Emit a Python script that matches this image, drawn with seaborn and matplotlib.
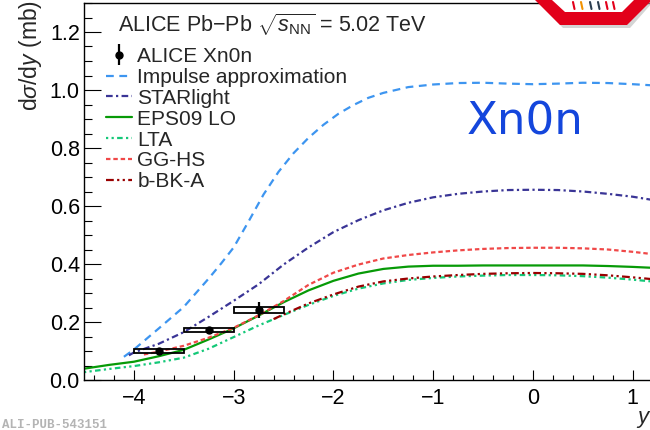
import numpy as np
import pandas as pd
import matplotlib
matplotlib.use("Agg")
import matplotlib.pyplot as plt
from matplotlib.patches import Rectangle, Polygon
from matplotlib.ticker import MultipleLocator
import seaborn as sns

# ALICE Xn0n measurement
data_x = [-3.75, -3.25, -2.75]
data_y = [0.100, 0.172, 0.241]
data_stat = [0.004, 0.012, 0.027]
data_syst = [0.006, 0.008, 0.011]
bin_half = [0.25, 0.25, 0.25]

# model curves, values
y_impulse = [-4.1, -4.0, -3.75, -3.5, -3.25, -3.125, -3.0, -2.85, -2.7, -2.55, -2.4, -2.25, -2.1, -1.95, -1.8,
             -1.65, -1.5, -1.25, -1.0, -0.75, -0.5, -0.25, 0.0, 0.25, 0.5, 0.75, 1.0, 1.25]
v_impulse = [0.080, 0.105, 0.178, 0.252, 0.350, 0.402, 0.457, 0.547, 0.640, 0.718, 0.782, 0.835, 0.880, 0.918, 0.948,
             0.973, 0.990, 1.010, 1.019, 1.024, 1.025, 1.022, 1.020, 1.022, 1.025, 1.024, 1.020, 1.015]

y_starlight = [-4.05, -4.0, -3.75, -3.5, -3.25, -3.0, -2.75, -2.5, -2.25, -2.0, -1.75, -1.5, -1.25,
               -1.0, -0.75, -0.5, -0.25, 0.0, 0.25, 0.5, 0.75, 1.0, 1.25]
v_starlight = [0.085, 0.095, 0.125, 0.165, 0.218, 0.273, 0.330, 0.398, 0.457, 0.510, 0.551, 0.585, 0.611,
               0.630, 0.642, 0.650, 0.655, 0.656, 0.655, 0.650, 0.642, 0.632, 0.618]

y_eps09 = [-4.5, -4.25, -4.0, -3.75, -3.5, -3.25, -3.0, -2.75, -2.5, -2.25, -2.0, -1.75, -1.5, -1.25,
           -1.0, -0.75, -0.5, -0.25, 0.0, 0.25, 0.5, 0.75, 1.0, 1.25]
v_eps09 = [0.039, 0.052, 0.063, 0.082, 0.104, 0.140, 0.178, 0.222, 0.268, 0.309, 0.342, 0.367, 0.383, 0.391,
           0.394, 0.394, 0.395, 0.395, 0.395, 0.395, 0.395, 0.393, 0.390, 0.386]

y_lta = [-4.5, -4.25, -4.0, -3.75, -3.5, -3.25, -3.0, -2.75, -2.5, -2.25, -2.0, -1.75, -1.5, -1.25,
         -1.0, -0.75, -0.5, -0.25, 0.0, 0.25, 0.5, 0.75, 1.0, 1.25]
v_lta = [0.027, 0.038, 0.048, 0.061, 0.077, 0.108, 0.148, 0.188, 0.224, 0.259, 0.290, 0.315, 0.333, 0.345,
         0.352, 0.357, 0.360, 0.362, 0.362, 0.361, 0.358, 0.353, 0.346, 0.338]

y_gghs = [-3.9, -3.75, -3.5, -3.25, -3.0, -2.75, -2.5, -2.25, -2.0, -1.75, -1.5, -1.25,
          -1.0, -0.75, -0.5, -0.25, 0.0, 0.25, 0.5, 0.75, 1.0, 1.25]
v_gghs = [0.088, 0.098, 0.118, 0.146, 0.180, 0.223, 0.272, 0.328, 0.370, 0.398, 0.419, 0.431,
          0.440, 0.447, 0.452, 0.455, 0.456, 0.456, 0.454, 0.450, 0.442, 0.432]

y_bbka = [-2.6, -2.5, -2.25, -2.0, -1.75, -1.5, -1.25,
          -1.0, -0.75, -0.5, -0.25, 0.0, 0.25, 0.5, 0.75, 1.0, 1.25]
v_bbka = [0.210, 0.226, 0.264, 0.295, 0.322, 0.340, 0.350,
          0.357, 0.362, 0.366, 0.368, 0.369, 0.368, 0.366, 0.361, 0.354, 0.346]

models = [
    ("Impulse approximation", y_impulse, v_impulse, "#3d95f0", (0, (3.5, 2.5))),
    ("STARlight", y_starlight, v_starlight, "#3a3596", (0, (3, 1.5, 1, 1.5))),
    ("EPS09 LO", y_eps09, v_eps09, "#079a07", "-"),
    ("LTA", y_lta, v_lta, "#14c878", (0, (1, 1.5, 1, 1.5, 2.5, 1.5))),
    ("GG-HS", y_gghs, v_gghs, "#f04848", (0, (2, 1.3))),
    ("b-BK-A", y_bbka, v_bbka, "#990000", (0, (3.5, 1.5, 1, 1.5, 1, 1.5))),
]

sns.set_theme(style="ticks")
plt.rcParams["font.family"] = ["Liberation Sans", "DejaVu Sans"]
plt.rcParams["mathtext.fontset"] = "custom"
plt.rcParams["mathtext.rm"] = "Liberation Sans"
plt.rcParams["mathtext.it"] = "Liberation Sans:italic"

W, H = 650, 430
fig = plt.figure(figsize=(6.5, 4.3), dpi=100)
ax = fig.add_axes([84 / W, (H - 380) / H, (W - 84) / W, 377 / H])

handles = []
for name, xs, vs, col, ls in models:
    df = pd.DataFrame({"y": xs, "v": vs})
    sns.lineplot(data=df, x="y", y="v", ax=ax, color=col, linestyle=ls, lw=1.6, label=name)
    handles.append(ax.lines[-1])

# systematic boxes
for x, v, s, hw in zip(data_x, data_y, data_syst, bin_half):
    ax.add_patch(Rectangle((x - hw, v - s), 2 * hw, 2 * s, fill=False, ec="black", lw=1.3, zorder=5))
eb = ax.errorbar(data_x, data_y, yerr=data_stat, fmt="o", color="black", ms=5,
                 elinewidth=1.6, capsize=0, zorder=6)

if ax.get_legend() is not None:
    ax.get_legend().remove()

ax.set_xlim(-4.5, 1.173)
ax.set_ylim(0, 1.3)
ax.set_xlabel("")
ax.set_ylabel("")
ax.xaxis.set_major_locator(MultipleLocator(1))
ax.xaxis.set_minor_locator(MultipleLocator(0.2))
ax.yaxis.set_major_locator(MultipleLocator(0.2))
ax.yaxis.set_minor_locator(MultipleLocator(0.05))
ax.set_yticklabels([f"{t:.1f}" for t in ax.get_yticks()])
ax.set_xticklabels([f"{int(t)}".replace("-", "\u2212") for t in ax.get_xticks()])
ax.tick_params(axis="both", which="both", direction="in", colors="black", labelsize=15.5, width=0.8)
ax.tick_params(axis="y", which="major", length=12, pad=3)
ax.tick_params(axis="y", which="minor", length=6)
ax.tick_params(axis="x", which="major", length=7, pad=6)
ax.tick_params(axis="x", which="minor", length=3.6)
for side in ["left", "bottom", "top"]:
    ax.spines[side].set_color("black")
    ax.spines[side].set_linewidth(1.0)
ax.spines["right"].set_visible(False)

leg = ax.legend([eb] + handles, ["ALICE Xn0n"] + [m[0] for m in models],
                loc="upper left", bbox_to_anchor=(106 / W, 1 - 47 / H), bbox_transform=fig.transFigure,
                frameon=False, fontsize=15, handlelength=1.25, handletextpad=0.25,
                labelspacing=0.09, borderpad=0, borderaxespad=0)

fig.text(118 / W, 1 - 25 / H, r"ALICE Pb$-$Pb $\sqrt{s_{\mathrm{NN}}}$ = 5.02 TeV",
         fontsize=15.5, va="center", ha="left")
fig.text(30 / W, 1.0, r"d$\sigma$/d$y$ (mb)", rotation=90, fontsize=16.5, ha="center", va="top")
fig.text(637 / W, 1 - 418 / H, "y", fontsize=16, style="italic", ha="left", va="center")
ax.text(-0.08, 0.89, "Xn0n", transform=ax.transData, fontsize=32.5, color="#1446dc",
        family="DejaVu Sans", ha="center", va="center")
fig.text(2 / W, 1 - 425 / H, "ALI-PUB-543151", fontsize=9, family="Liberation Mono",
         weight="bold", color="#b4b4b4", ha="left", va="center")

# ALICE logo corner
fx = lambda p: p / W
fy = lambda p: 1 - p / H
fig.patches.append(Polygon([(fx(538), fy(2)), (fx(563), fy(28)), (fx(630), fy(28)), (fx(653), fy(2))],
                           closed=True, transform=fig.transFigure, fc="#b8b8b8", ec="none", alpha=0.6))
fig.patches.append(Polygon([(fx(535), fy(0)), (fx(560), fy(25)), (fx(627), fy(25)), (fx(652), fy(0))],
                           closed=True, transform=fig.transFigure, fc="#e2001a", ec="none"))
fig.patches.append(Polygon([(fx(552), fy(0)), (fx(565), fy(12)), (fx(622), fy(12)), (fx(634), fy(0))],
                           closed=True, transform=fig.transFigure, fc="white", ec="none"))
for px0, c in zip([573, 581, 590, 598, 606, 613], ["#e2001a", "#f39200", "#2d3e50", "#2d3e50", "#e2001a", "#e2001a"]):
    fig.add_artist(plt.Line2D([fx(px0), fx(px0 + 1.5)], [fy(2), fy(9)], transform=fig.transFigure,
                              color=c, lw=1.5))

fig.savefig("out.png", dpi=100)
